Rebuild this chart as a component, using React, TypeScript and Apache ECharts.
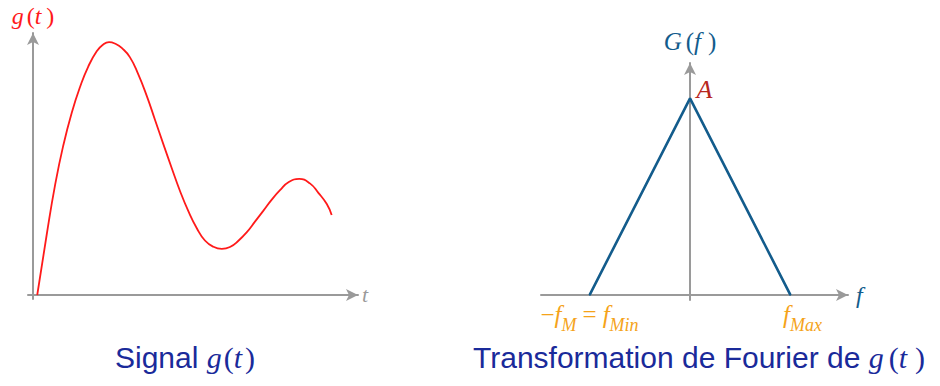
import React, { useEffect, useRef } from "react";
import * as echarts from "echarts";

// Signal g(t) (arbitrary units)
const tValues = [0.13, 0.42, 0.68, 0.93, 1.19, 1.45, 1.7, 1.96, 2.15, 2.34, 2.55, 2.73, 2.98, 3.24, 3.5, 3.75, 4.01, 4.27, 4.52, 4.78, 5.04, 5.29, 5.55, 5.81, 6.06, 6.32, 6.58, 6.83, 7.09, 7.34, 7.6, 7.86, 8.19, 8.52, 8.78, 9.04, 9.19];
const gValues = [0, 2.29, 4.2, 5.7, 6.95, 7.95, 8.72, 9.3, 9.55, 9.65, 9.58, 9.43, 9.08, 8.42, 7.6, 6.7, 5.76, 4.84, 3.98, 3.2, 2.55, 2.08, 1.84, 1.76, 1.83, 2.07, 2.4, 2.8, 3.22, 3.63, 4.0, 4.3, 4.43, 4.26, 3.9, 3.47, 3.05];

// Fourier transform G(f): triangle
const fValues = [-1, 0, 1];
const GValues = [0, 1, 0];

const AXIS_GRAY = "#9a9a9a";
const RED = "#ff1a1a";
const BLUE = "#135c8c";
const ORANGE = "#f5a31a";
const DARK_RED = "#b8281e";
const CAPTION = "#1a2a9a";
const SERIF = "Liberation Serif";
const SANS = "Liberation Sans";

export default function App() {
  const ref = useRef<HTMLDivElement>(null);
  useEffect(() => {
    if (!ref.current) return;
    const chart = echarts.init(ref.current, undefined, { renderer: "svg" });
    const it = (size: number, color: string) => ({ fontFamily: SERIF, fontStyle: "italic", fontSize: size, color });
    const up = (size: number, color: string) => ({ fontFamily: SERIF, fontSize: size, color });
    const axisLine = {
      show: true,
      onZero: true,
      symbol: ["none", "arrow"],
      symbolSize: [9, 12],
      lineStyle: { color: AXIS_GRAY, width: 2 },
    };
    const hidden = { axisTick: { show: false }, axisLabel: { show: false }, splitLine: { show: false } };
    const capRich = (gp: number, tp: number) => ({
      s: { fontFamily: SANS, fontSize: 30, fill: CAPTION, color: CAPTION },
      i: { ...it(30, CAPTION), fill: CAPTION },
      p: { ...up(30, CAPTION), fill: CAPTION, padding: [0, 0, 0, gp] },
      q: { ...up(30, CAPTION), fill: CAPTION, padding: [0, 0, 0, tp] },
    });
    const sub = { ...it(18, ORANGE), verticalAlign: "bottom" };
    const main = (o: any) => ({ ...o, padding: [0, 0, 7, 0], verticalAlign: "bottom" });

    chart.setOption({
      animation: false,
      grid: [
        { left: 28, top: 33, width: 330, height: 266 },
        { left: 541, top: 63, width: 307, height: 237 },
      ],
      xAxis: [
        {
          type: "value", gridIndex: 0, min: -0.154, max: 10, axisLine, ...hidden,
          name: "t", nameLocation: "end", nameGap: 4,
          nameTextStyle: { ...it(22, AXIS_GRAY), verticalAlign: "middle" },
        },
        {
          type: "value", gridIndex: 1, min: -1.483, max: 1.572, axisLine, ...hidden,
          name: "f", nameLocation: "end", nameGap: 8,
          nameTextStyle: { ...it(24, BLUE), verticalAlign: "middle" },
        },
      ],
      yAxis: [
        {
          type: "value", gridIndex: 0, min: -0.153, max: 10, axisLine, ...hidden,
          name: "{i|g}{p|(}{i|t}{q|)}", nameLocation: "end", nameGap: 5,
          nameTextStyle: {
            align: "center",
            rich: {
              i: it(24, RED),
              p: { ...up(24, RED), padding: [0, 0, 0, 3] },
              q: { ...up(24, RED), padding: [0, 0, 0, 5] },
            },
          },
        },
        {
          type: "value", gridIndex: 1, min: -0.025, max: 1.18, axisLine, ...hidden,
          name: "{i|G}{p|(}{i|f}{q|)}", nameLocation: "end", nameGap: 9,
          nameTextStyle: {
            align: "center",
            rich: {
              i: it(25, BLUE),
              p: { ...up(25, BLUE), padding: [0, 0, 0, 4] },
              q: { ...up(25, BLUE), padding: [0, 0, 0, 7] },
            },
          },
        },
      ],
      series: [
        {
          type: "line",
          xAxisIndex: 0, yAxisIndex: 0,
          data: tValues.map((t, i) => [t, gValues[i]]),
          smooth: 0.5,
          showSymbol: false,
          lineStyle: { color: RED, width: 1.8 },
          silent: true,
        },
        {
          type: "line",
          xAxisIndex: 1, yAxisIndex: 1,
          data: fValues.map((f, i) => {
            const item: any = { value: [f, GValues[i]] };
            if (i === 0) {
              item.label = {
                show: true, position: "bottom", distance: 6,
                formatter: "{o|−}{i|f}{s|M}{e|=}{i|f}{s|Min}",
                rich: {
                  o: main(up(25, ORANGE)),
                  e: { ...main(up(25, ORANGE)), padding: [0, 6, 7, 6] },
                  i: main(it(25, ORANGE)),
                  s: sub,
                },
              };
            } else if (i === 1) {
              item.label = {
                show: true, position: "right", distance: 6, offset: [0, -9],
                formatter: "A",
                ...it(26, DARK_RED),
              };
            } else {
              item.label = {
                show: true, position: "bottom", distance: 6, offset: [12, 0],
                formatter: "{i|f}{s|Max}",
                rich: {
                  i: main(it(25, ORANGE)),
                  s: sub,
                },
              };
            }
            return item;
          }),
          symbol: "circle",
          symbolSize: 1,
          showSymbol: true,
          itemStyle: { color: BLUE },
          lineStyle: { color: BLUE, width: 2.6 },
          silent: true,
        },
      ],
      graphic: [
        {
          type: "text",
          left: 115, top: 342,
          style: { text: "{s|Signal }{i|g}{p|(}{i|t}{q|)}", rich: capRich(2, 3) },
        },
        {
          type: "text",
          left: 473, top: 342,
          style: { text: "{s|Transformation de Fourier de }{i|g}{p|(}{i|t}{q|)}", rich: capRich(5, 8) },
        },
      ],
    });
    return () => chart.dispose();
  }, []);
  return (
    <div
      ref={ref}
      style={{ position: "absolute", left: 0, top: 0, width: 940, height: 386 }}
    />
  );
}
